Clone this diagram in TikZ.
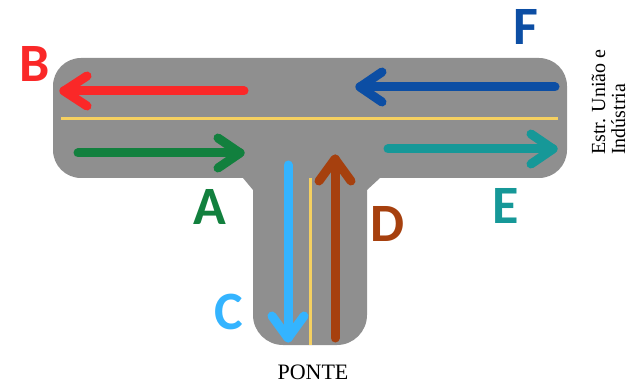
\documentclass[tikz,border=0pt]{standalone}
\usepackage{fontspec}
\setmainfont{Liberation Serif}
\newfontfamily\lblfont{Carlito}
\definecolor{roadgray}{RGB}{143,143,143}
\definecolor{laneyellow}{RGB}{245,208,96}
\definecolor{cred}{RGB}{250,40,40}
\definecolor{cgreen}{RGB}{18,128,62}
\definecolor{cblue}{RGB}{12,78,164}
\definecolor{cteal}{RGB}{22,152,152}
\definecolor{ccyan}{RGB}{52,180,255}
\definecolor{cbrown}{RGB}{166,64,14}
\tikzset{
  flow/.style={line width=9pt, line cap=round, line join=round},
  lane/.style={laneyellow, line width=3pt},
  lbl/.style={font=\lblfont\bfseries\fontsize{54}{54}\selectfont, inner sep=0pt},
  street/.style={font=\fontsize{20}{20}\selectfont, inner sep=0pt, rotate=90, anchor=base west},
}
\begin{document}
\begin{tikzpicture}[x=1pt,y=-1pt]
\useasboundingbox (0,0) rectangle (630,385);
% road
\fill[roadgray, rounded corners=28pt] (53,58) rectangle (567,178);
\fill[roadgray, rounded corners=30pt] (253,100) rectangle (367,345);
\fill[roadgray] (243,178) -- (253,190) -- (253,170) -- cycle;
\fill[roadgray] (380,178) -- (367,190) -- (367,170) -- cycle;
% lane dividers
\draw[lane] (61,119) -- (558,119);
\draw[lane] (310,178) -- (310,345);
% B
\draw[flow, cred] (244,91) -- (64,91);
\draw[flow, cred] (87,76) -- (64,91) -- (87,106);
% A
\draw[flow, cgreen] (78,153) -- (240,153);
\draw[flow, cgreen] (218,138) -- (240,153) -- (218,168);
% F
\draw[flow, cblue] (555,87) -- (360,87);
\draw[flow, cblue] (382,72) -- (360,87) -- (382,102);
% E
\draw[flow, cteal] (388,149) -- (553,149);
\draw[flow, cteal] (531,134) -- (553,149) -- (531,164);
% C
\draw[flow, ccyan] (288,165) -- (288,338);
\draw[flow, ccyan] (272,316) -- (288,338) -- (304,316);
% D
\draw[flow, cbrown] (335,338) -- (335,159);
\draw[flow, cbrown] (319,181) -- (335,159) -- (351,181);
% labels
\node[lbl, text=cred] (lB) at (35,64) {B};
\node[lbl, text=cgreen] (lA) at (210,207) {A};
\node[lbl, text=cblue] (lF) at (526,27) {F};
\node[lbl, text=cteal] (lE) at (506,206) {E};
\node[lbl, text=ccyan] (lC) at (229,312) {C};
\node[lbl, text=cbrown] (lD) at (388,224) {D};
% street names
\node[street] (s1) at (605,155) {Estr. União e};
\node[street] (s2) at (625,155) {Indústria};
\node[font=\fontsize{22}{22}\selectfont, inner sep=0pt] (ponte) at (313,372) {PONTE};
\end{tikzpicture}
\end{document}
